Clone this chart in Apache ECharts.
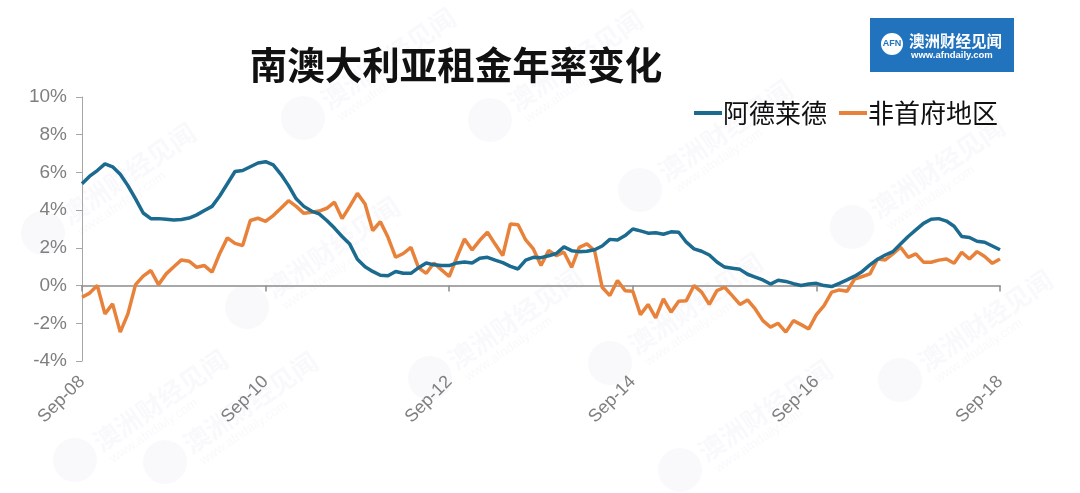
<!DOCTYPE html>
<html>
<head>
<meta charset="utf-8">
<script src="https://cdn.jsdelivr.net/npm/echarts@6/dist/echarts.min.js"></script>
<style>
html,body{margin:0;padding:0;background:#fff;}
#chart{width:1080px;height:493px;}
</style>
</head>
<body>
<div id="chart"></div>
<script>
// ---- data ----
const monthNames = ['Jan','Feb','Mar','Apr','May','Jun','Jul','Aug','Sep','Oct','Nov','Dec'];
const categories = [];
for (let i = 0; i < 121; i++) {
  const mi = (8 + i) % 12;
  const yr = 2008 + Math.floor((8 + i) / 12);
  categories.push(monthNames[mi] + '-' + String(yr % 100).padStart(2, '0'));
}
const yTickLabels = ['-4%','-2%','0%','2%','4%','6%','8%','10%'];

const adelaide = [
  5.4, 5.8, 6.1, 6.45, 6.3, 5.9, 5.3, 4.6, 3.85, 3.55,
  3.55, 3.52, 3.48, 3.5, 3.58, 3.75, 3.98, 4.2, 4.75, 5.4,
  6.05, 6.1, 6.3, 6.5, 6.57, 6.4, 5.9, 5.3, 4.6, 4.2,
  3.95, 3.8, 3.45, 3.05, 2.6, 2.2, 1.4, 1.0, 0.75, 0.55,
  0.52, 0.75, 0.65, 0.65, 0.95, 1.2, 1.1, 1.06, 1.06, 1.2,
  1.25, 1.2, 1.45, 1.5, 1.35, 1.22, 1.02, 0.88, 1.35, 1.5,
  1.48, 1.58, 1.7, 2.05, 1.85, 1.8, 1.82, 1.9, 2.1, 2.45,
  2.42, 2.65, 3.0, 2.9, 2.78, 2.8, 2.72, 2.85, 2.83, 2.3,
  1.95, 1.82, 1.62, 1.25, 0.98, 0.92, 0.86, 0.6, 0.45, 0.3,
  0.08, 0.28, 0.22, 0.1, 0.0, 0.08, 0.12, 0.0, -0.05, 0.12,
  0.3, 0.5, 0.75, 1.1, 1.4, 1.62, 1.8, 2.2, 2.6, 2.95,
  3.3, 3.52, 3.55, 3.42, 3.15, 2.6, 2.55, 2.35, 2.3, 2.1,
  1.9
];
const regional = [
  -0.62, -0.4, 0.0, -1.5, -0.97, -2.47, -1.5, 0.05, 0.5, 0.8,
  0.05, 0.62, 1.0, 1.36, 1.29, 0.97, 1.06, 0.71, 1.7, 2.53,
  2.24, 2.12, 3.45, 3.57, 3.41, 3.71, 4.1, 4.5, 4.2, 3.83,
  3.89, 3.95, 4.1, 4.42, 3.55, 4.2, 4.89, 4.33, 2.92, 3.39,
  2.56, 1.5, 1.7, 2.03, 0.94, 0.65, 1.2, 0.83, 0.48, 1.5,
  2.47, 1.89, 2.4, 2.83, 2.2, 1.59, 3.27, 3.23, 2.42, 1.94,
  1.06, 1.86, 1.59, 1.77, 0.97, 2.03, 2.21, 1.86, -0.09, -0.53,
  0.27, -0.27, -0.3, -1.54, -1.0, -1.71, -0.71, -1.41, -0.83, -0.8,
  0.0, -0.35, -1.0, -0.27, -0.09, -0.53, -1.0, -0.76, -1.24, -1.86,
  -2.2, -2.0, -2.47, -1.86, -2.07, -2.3, -1.54, -1.06, -0.35, -0.23,
  -0.3, 0.35, 0.48, 0.62, 1.41, 1.36, 1.68, 2.03, 1.5, 1.68,
  1.24, 1.24, 1.35, 1.41, 1.18, 1.77, 1.41, 1.8, 1.54, 1.18,
  1.41
];
const seriesNames = ['阿德莱德', '非首府地区'];
const titleText = '南澳大利亚租金年率变化';

// ---- watermark helper ----
const wmPositions = [[303,118],[490,120],[43,233],[247,307],[640,190],[610,363],[852,227],[430,378],[165,462],[900,380],[680,470],[75,460]];
const wmColor = 'rgba(205,210,230,0.13)';
const watermarks = wmPositions.map(p => ({
  type: 'group', x: p[0], y: p[1], rotation: 0.6, silent: true, z: 0,
  children: [
    {type: 'circle', shape: {cx: 0, cy: 0, r: 22}, style: {fill: wmColor}},
    {type: 'text', x: 26, y: -14, style: {text: '澳洲财经见闻', fill: wmColor, font: 'bold 26px "Noto Sans CJK SC"'}},
    {type: 'text', x: 30, y: 14, style: {text: 'www.afndaily.com', fill: wmColor, font: '13px "Liberation Sans"'}}
  ]
}));

const chart = echarts.init(document.getElementById('chart'), null, {renderer: 'canvas'});
chart.setOption({
  animation: false,
  backgroundColor: '#ffffff',
  title: {
    text: titleText,
    left: 451, top: 41, textAlign: 'center',
    textStyle: {fontFamily: 'Noto Sans CJK SC', fontSize: 37.5, fontWeight: 'bold', color: '#111111'}
  },
  legend: {
    left: 689, top: 95,
    itemWidth: 28, itemHeight: 4, itemGap: 12,
    icon: 'rect',
    textStyle: {fontFamily: 'Noto Sans CJK SC', fontSize: 26, color: '#111111', padding: [0, 0, 0, -4]},
    data: seriesNames
  },
  grid: {left: 82, right: 80, top: 97, height: 264, containLabel: false, outerBoundsMode: 'none'},
  xAxis: {
    type: 'category',
    data: categories,
    boundaryGap: false,
    axisLine: {onZero: true, lineStyle: {color: '#8c8c8c', width: 1.5}},
    axisTick: {show: true, interval: 23, length: 6, lineStyle: {color: '#8c8c8c', width: 1.5}},
    axisLabel: {interval: 23, rotate: 45, margin: 18, color: '#7f7f7f', fontFamily: 'Liberation Sans', fontSize: 18},
    splitLine: {show: false}
  },
  yAxis: {
    type: 'value',
    min: -4, max: 10, interval: 2,
    axisLine: {show: true, lineStyle: {color: '#a6a6a6', width: 1}},
    axisTick: {show: true, length: 6, lineStyle: {color: '#a6a6a6'}},
    axisLabel: {
      color: '#7f7f7f', fontFamily: 'Liberation Sans', fontSize: 19, margin: 15,
      formatter: function (v) { return yTickLabels[Math.round((v + 4) / 2)]; }
    },
    splitLine: {show: false}
  },
  series: [
    {name: seriesNames[0], type: 'line', data: adelaide, showSymbol: false, symbol: 'none',
     lineStyle: {color: '#1b6a8f', width: 3.5}, itemStyle: {color: '#1b6a8f'}, z: 3},
    {name: seriesNames[1], type: 'line', data: regional, showSymbol: false, symbol: 'none',
     lineStyle: {color: '#e8823a', width: 3.5}, itemStyle: {color: '#e8823a'}, z: 2}
  ],
  graphic: watermarks.concat([
    {type: 'rect', left: 870, top: 18, shape: {width: 144, height: 54}, style: {fill: '#2273be'}, z: 10},
    {type: 'circle', shape: {cx: 892, cy: 44, r: 11}, style: {fill: '#ffffff'}, z: 11},
    {type: 'text', x: 892, y: 44, style: {text: 'AFN', fill: '#2273be', font: 'bold 9px "Liberation Sans"', align: 'center', verticalAlign: 'middle'}, z: 12},
    {type: 'text', x: 909, y: 41, style: {text: '澳洲财经见闻', fill: '#ffffff', font: 'bold 15.5px "Noto Sans CJK SC"', verticalAlign: 'middle'}, z: 11},
    {type: 'text', x: 911, y: 55, style: {text: 'www.afndaily.com', fill: '#ffffff', font: 'bold 9.5px "Liberation Sans"', verticalAlign: 'middle'}, z: 11}
  ])
});
</script>
</body>
</html>
